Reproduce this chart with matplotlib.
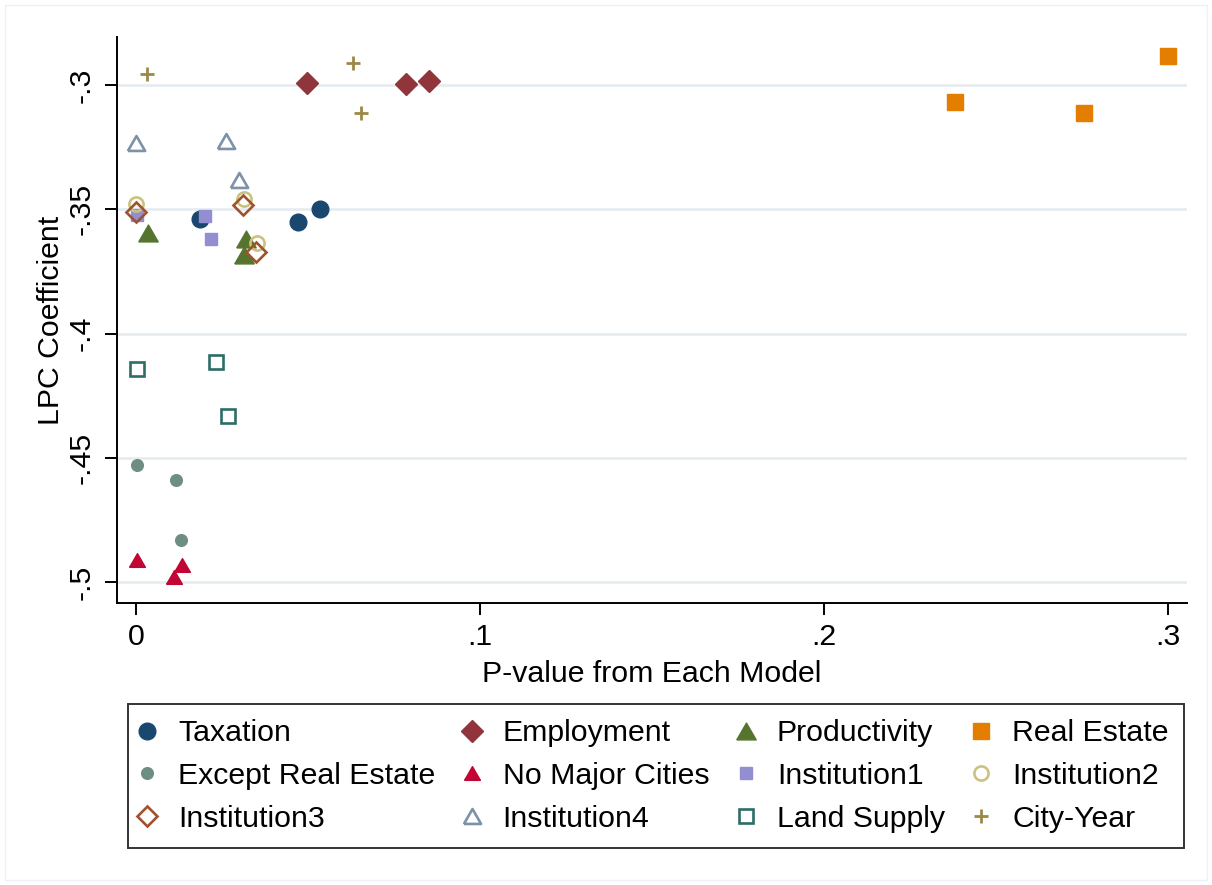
import matplotlib
matplotlib.use("Agg")
import matplotlib.pyplot as plt
from matplotlib.patches import Rectangle
import numpy as np

plt.rcParams['font.family'] = ['Liberation Sans', 'DejaVu Sans']

# p-values and LPC coefficients, three specifications per robustness check
labels = ["Taxation", "Employment", "Productivity", "Real Estate",
          "Except Real Estate", "No Major Cities", "Institution1", "Institution2",
          "Institution3", "Institution4", "Land Supply", "City-Year"]

taxation_p = [0.0186, 0.0471, 0.0535]
taxation_b = [-0.3539, -0.3551, -0.3497]
employment_p = [0.0497, 0.0785, 0.0851]
employment_b = [-0.2993, -0.2996, -0.2985]
productivity_p = [0.0036, 0.0320, 0.0314]
productivity_b = [-0.3595, -0.3620, -0.3683]
realestate_p = [0.2380, 0.2757, 0.2999]
realestate_b = [-0.3067, -0.3114, -0.2882]
except_re_p = [0.0002, 0.0115, 0.0132]
except_re_b = [-0.4529, -0.4588, -0.4831]
no_major_p = [0.0002, 0.0133, 0.0111]
no_major_b = [-0.4911, -0.4932, -0.4979]
inst1_p = [0.0002, 0.0201, 0.0217]
inst1_b = [-0.3523, -0.3526, -0.3619]
inst2_p = [0.0000, 0.0315, 0.0351]
inst2_b = [-0.3480, -0.3460, -0.3635]
inst3_p = [0.0000, 0.0312, 0.0348]
inst3_b = [-0.3512, -0.3484, -0.3672]
inst4_p = [0.0000, 0.0262, 0.0300]
inst4_b = [-0.3235, -0.3224, -0.3382]
land_p = [0.0002, 0.0233, 0.0268]
land_b = [-0.4142, -0.4116, -0.4331]
cityyear_p = [0.0032, 0.0632, 0.0654]
cityyear_b = [-0.2957, -0.2913, -0.3111]

xticks = [0, 0.1, 0.2, 0.3]
xtick_labels = ["0", ".1", ".2", ".3"]
yticks = [-0.5, -0.45, -0.4, -0.35, -0.3]
ytick_labels = ["-.5", "-.45", "-.4", "-.35", "-.3"]

series = [
    (taxation_p, taxation_b), (employment_p, employment_b),
    (productivity_p, productivity_b), (realestate_p, realestate_b),
    (except_re_p, except_re_b), (no_major_p, no_major_b),
    (inst1_p, inst1_b), (inst2_p, inst2_b),
    (inst3_p, inst3_b), (inst4_p, inst4_b),
    (land_p, land_b), (cityyear_p, cityyear_b),
]

# equilateral triangle, centred on its bounding box
tri = [(-1, -0.866), (1, -0.866), (0, 0.866), (-1, -0.866)]

# (color, marker, size, filled, edge width)
styles = [
    ("#1a476f", "o", 12.0, True, 1.0),
    ("#90353b", "D", 11.4, True, 1.0),
    ("#55752f", tri, 14.0, True, 1.0),
    ("#e37e00", "s", 11.8, True, 1.0),
    ("#6e8e84", "o", 8.4, True, 1.0),
    ("#c10534", tri, 11.4, True, 1.0),
    ("#938dd2", "s", 9.0, True, 1.0),
    ("#cac27e", "o", 10.2, False, 1.9),
    ("#a0522d", "D", 9.8, False, 1.9),
    ("#7b92a8", tri, 12.4, False, 1.9),
    ("#2d6d66", "s", 9.6, False, 1.9),
    ("#9c8847", "+", 10.5, False, 2.0),
]

fs = 21.8

fig = plt.figure(figsize=(12.12, 8.85), dpi=100)
fig.patch.set_facecolor("white")
ax = fig.add_axes([0.0965, 0.3186, 0.8829, 0.6396])

for y in yticks:
    ax.axhline(y, color="#e6edf0", lw=2.0, zorder=0)

handles = []
for (px, b), (c, m, ms, filled, mew), lab in zip(series, styles, labels):
    h, = ax.plot(px, b, linestyle="none", marker=m, markersize=ms,
                 markerfacecolor=c if filled else "none",
                 markeredgecolor=c, markeredgewidth=mew,
                 label=lab, zorder=3)
    handles.append(h)

ax.set_xlim(-0.00552, 0.30552)
ax.set_ylim(-0.50845, -0.28068)
ax.set_xticks(xticks)
ax.set_xticklabels(xtick_labels)
ax.set_yticks(yticks)
ax.set_yticklabels(ytick_labels, rotation=90, va="center")

for s in ["top", "right"]:
    ax.spines[s].set_visible(False)
for s in ["left", "bottom"]:
    ax.spines[s].set_linewidth(1.4)
    ax.spines[s].set_color("black")

ax.tick_params(axis="both", length=8.6, width=1.4, color="black", labelsize=fs)
ax.tick_params(axis="x", pad=6)
ax.tick_params(axis="y", pad=7)
ax.set_xlabel("P-value from Each Model", fontsize=fs, labelpad=6)
ax.set_ylabel("LPC Coefficient", fontsize=fs, labelpad=1.5)

# legend is filled column by column, so reorder to read across rows
ncol = 4
order = [r * ncol + c for c in range(ncol) for r in range(3)]
leg = fig.legend(handles=[handles[i] for i in order], ncol=ncol, loc="upper left",
                 bbox_to_anchor=(128 / 1212, 1 - 704 / 885),
                 fontsize=fs, frameon=True, fancybox=False,
                 handlelength=0.25, handletextpad=0.9, columnspacing=1.08,
                 labelspacing=0.49, borderpad=0.5, borderaxespad=0)
leg.get_frame().set_edgecolor("black")
leg.get_frame().set_linewidth(1.4)

# faint outer border of the graph region
fig.patches.append(Rectangle((5 / 1212, 5 / 885), 1 - 10 / 1212, 1 - 10 / 885,
                             transform=fig.transFigure, fill=False,
                             edgecolor="#edf1f3", lw=1.0))

fig.savefig("out.png", dpi=100)
